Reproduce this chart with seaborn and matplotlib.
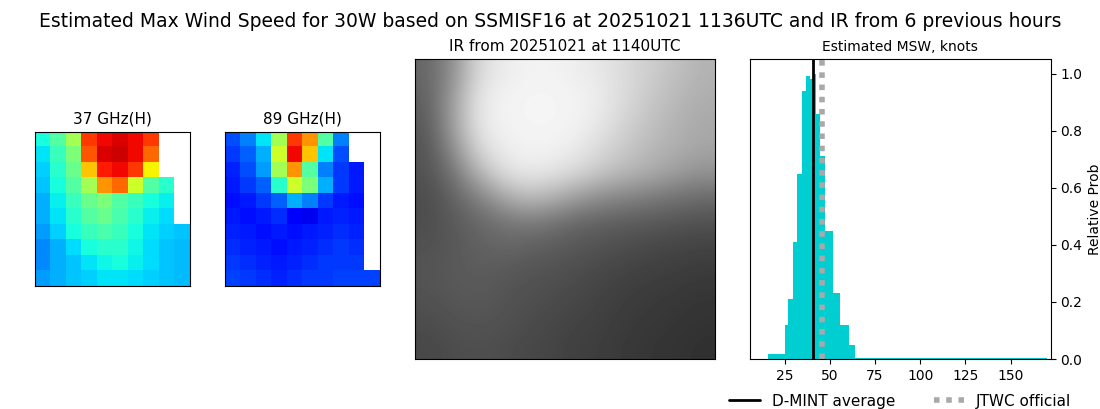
import numpy as np
import matplotlib
matplotlib.use("Agg")
import matplotlib.pyplot as plt
import seaborn as sns

sns.set_style("ticks")
plt.rcParams['font.family'] = ['DejaVu Sans']
for k in ("text.color", "axes.labelcolor", "xtick.color", "ytick.color", "axes.edgecolor"):
    plt.rcParams[k] = "black"

n = np.nan
# 37 GHz brightness (0..1 on jet scale), coarse grid
mw37 = np.array([
    [0.38, 0.45, 0.55, 0.85, 0.90, 0.92, 0.90, 0.85, n, n],
    [0.35, 0.42, 0.50, 0.82, 0.92, 0.93, 0.90, 0.80, n, n],
    [0.33, 0.40, 0.48, 0.70, 0.88, 0.90, 0.85, 0.65, n, n],
    [0.32, 0.38, 0.45, 0.55, 0.75, 0.80, 0.60, 0.45, 0.40, n],
    [0.30, 0.36, 0.42, 0.48, 0.50, 0.45, 0.42, 0.38, 0.36, n],
    [0.30, 0.35, 0.40, 0.45, 0.48, 0.44, 0.40, 0.36, 0.34, n],
    [0.28, 0.33, 0.38, 0.42, 0.44, 0.42, 0.38, 0.35, 0.33, 0.32],
    [0.26, 0.30, 0.34, 0.38, 0.40, 0.40, 0.37, 0.34, 0.32, 0.31],
    [0.26, 0.30, 0.32, 0.35, 0.37, 0.38, 0.36, 0.34, 0.32, 0.31],
    [0.28, 0.30, 0.32, 0.33, 0.35, 0.35, 0.34, 0.33, 0.32, 0.31],
])
# 89 GHz brightness
mw89 = np.array([
    [0.20, 0.25, 0.35, 0.55, 0.85, 0.75, 0.45, 0.25, n, n],
    [0.18, 0.22, 0.30, 0.60, 0.90, 0.70, 0.35, 0.20, n, n],
    [0.16, 0.20, 0.28, 0.55, 0.75, 0.45, 0.25, 0.18, 0.15, n],
    [0.15, 0.18, 0.22, 0.40, 0.60, 0.50, 0.30, 0.18, 0.15, n],
    [0.14, 0.15, 0.18, 0.22, 0.30, 0.25, 0.18, 0.15, 0.14, n],
    [0.15, 0.14, 0.15, 0.17, 0.12, 0.10, 0.15, 0.16, 0.15, n],
    [0.16, 0.15, 0.14, 0.15, 0.14, 0.15, 0.16, 0.17, 0.16, n],
    [0.17, 0.16, 0.15, 0.14, 0.15, 0.16, 0.17, 0.18, 0.17, n],
    [0.18, 0.17, 0.16, 0.15, 0.16, 0.17, 0.18, 0.18, 0.18, n],
    [0.19, 0.18, 0.17, 0.16, 0.17, 0.18, 0.18, 0.19, 0.19, 0.19],
])
# IR brightness (grey levels)
ir = np.array([
    [0.40, 0.55, 0.85, 0.92, 0.95, 0.95, 0.93, 0.90, 0.85, 0.80, 0.75, 0.70],
    [0.38, 0.60, 0.90, 0.95, 0.96, 0.96, 0.95, 0.92, 0.85, 0.78, 0.72, 0.68],
    [0.35, 0.62, 0.90, 0.95, 0.96, 0.96, 0.95, 0.90, 0.82, 0.75, 0.70, 0.66],
    [0.33, 0.55, 0.85, 0.93, 0.95, 0.95, 0.92, 0.85, 0.78, 0.72, 0.68, 0.65],
    [0.32, 0.45, 0.70, 0.88, 0.92, 0.90, 0.85, 0.78, 0.72, 0.68, 0.62, 0.58],
    [0.30, 0.38, 0.50, 0.65, 0.75, 0.70, 0.62, 0.55, 0.52, 0.48, 0.45, 0.42],
    [0.30, 0.35, 0.40, 0.45, 0.48, 0.45, 0.40, 0.38, 0.36, 0.35, 0.33, 0.32],
    [0.32, 0.34, 0.38, 0.40, 0.38, 0.36, 0.34, 0.32, 0.30, 0.28, 0.27, 0.26],
    [0.33, 0.35, 0.36, 0.35, 0.33, 0.32, 0.30, 0.28, 0.26, 0.25, 0.24, 0.23],
    [0.32, 0.34, 0.35, 0.33, 0.31, 0.30, 0.28, 0.26, 0.24, 0.23, 0.22, 0.21],
    [0.30, 0.32, 0.33, 0.32, 0.30, 0.28, 0.26, 0.25, 0.23, 0.22, 0.21, 0.20],
    [0.28, 0.30, 0.31, 0.30, 0.28, 0.27, 0.25, 0.24, 0.22, 0.21, 0.20, 0.19],
])

bin_edges = [15.7, 25, 26.8, 29.6, 32, 34.6, 36.7, 39, 40.5, 42.5, 44.4, 47.2,
             51.5, 55.6, 60.6, 63.9, 170]
rel_prob = [0.018, 0.12, 0.21, 0.41, 0.65, 0.94, 0.99, 0.98, 1.0, 0.86, 0.71,
            0.45, 0.23, 0.12, 0.05, 0.003]
dmint_avg = 40.6
jtwc = 45.5

fig = plt.figure(figsize=(11, 4.09), dpi=100)
fig.suptitle("Estimated Max Wind Speed for 30W based on SSMISF16 at 20251021 1136UTC and IR from 6 previous hours",
             fontsize=13.5, y=0.97)

ax1 = fig.add_axes([0.0318, 0.301, 0.141, 0.377])
ax1.imshow(np.ma.masked_invalid(mw37), cmap="jet", vmin=0, vmax=1, interpolation="nearest")
ax1.set_title("37 GHz(H)", fontsize=11)
ax2 = fig.add_axes([0.2045, 0.301, 0.141, 0.377])
ax2.imshow(np.ma.masked_invalid(mw89), cmap="jet", vmin=0, vmax=1, interpolation="nearest")
ax2.set_title("89 GHz(H)", fontsize=11)
ax3 = fig.add_axes([0.377, 0.122, 0.273, 0.733])
ax3.imshow(ir, cmap="gray", vmin=0, vmax=1, interpolation="bicubic")
ax3.set_title("IR from 20251021 at 1140UTC", fontsize=11)
for ax in (ax1, ax2, ax3):
    ax.set_xticks([]); ax.set_yticks([])

ax4 = fig.add_axes([0.682, 0.122, 0.273, 0.733])
left = np.array(bin_edges[:-1]); widths = np.diff(bin_edges)
ax4.bar(left, rel_prob, width=widths, align="edge", color="darkturquoise", linewidth=0)
ax4.axvline(dmint_avg, color="black", lw=2, label="D-MINT average")
ax4.axvline(jtwc, color="darkgray", lw=4, ls=(0, (1, 1.2)), label="JTWC official")
ax4.set_xlim(6, 172)
ax4.set_ylim(0, 1.05)
ax4.set_xticks([25, 50, 75, 100, 125, 150])
ax4.tick_params(labelsize=10)
ax4.yaxis.tick_right(); ax4.yaxis.set_label_position("right")
ax4.set_ylabel("Relative Prob")
ax4.set_title("Estimated MSW, knots", fontsize=10)
ax4.legend(loc="upper center", bbox_to_anchor=(0.5, -0.07), ncol=2, frameon=False,
           fontsize=11, columnspacing=2.5)

fig.savefig("out.png")
